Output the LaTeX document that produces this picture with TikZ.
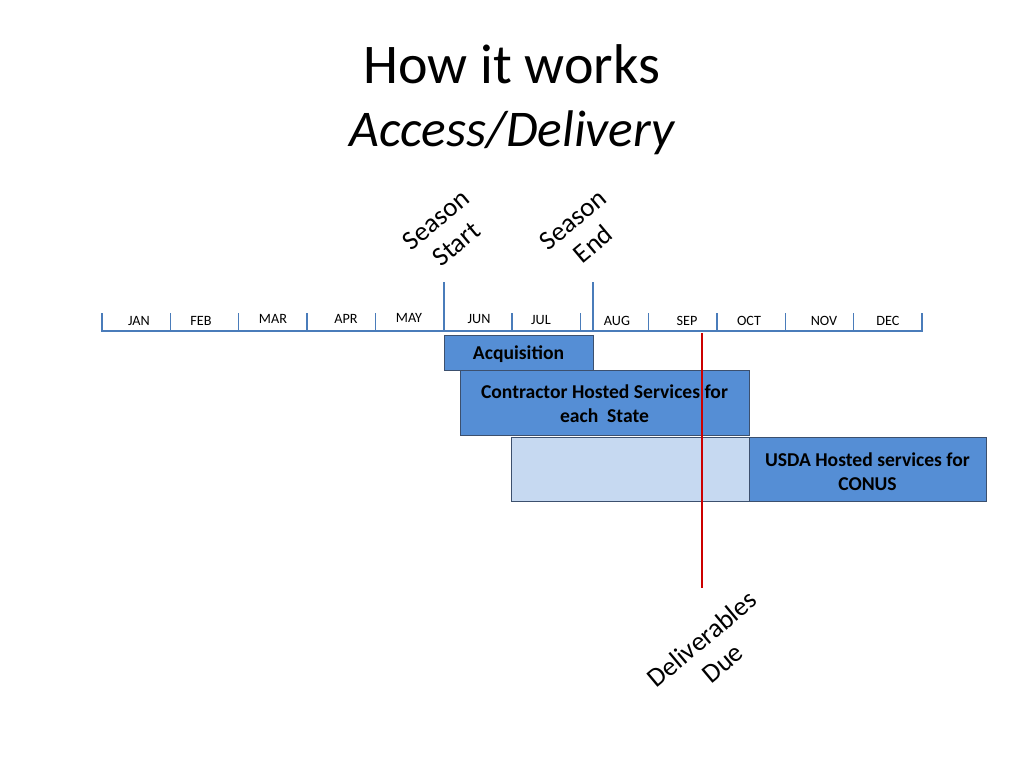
\documentclass[tikz,border=0pt]{standalone}
\usepackage{fontspec}
\setmainfont{Carlito}
\definecolor{tl}{RGB}{74,124,186}
\definecolor{boxfill}{RGB}{85,142,213}
\definecolor{lightfill}{RGB}{198,217,241}
\definecolor{boxline}{RGB}{60,80,110}
\definecolor{duered}{RGB}{204,0,0}
\tikzset{
  month/.style={font=\fontsize{14.2}{17}\selectfont, inner sep=0pt},
  tick/.style={draw=tl, line width=1.6pt},
  seasonline/.style={draw=tl, line width=1.6pt},
  axis/.style={draw=tl, line width=2.6pt},
  box/.style={draw=boxline, line width=0.9pt, fill=boxfill, inner sep=0pt, align=center,
    font=\bfseries\fontsize{19.6}{24}\selectfont},
  lightbox/.style={box, fill=lightfill},
  rotlabel/.style={rotate=40, align=center, inner sep=0pt, font=\fontsize{27}{32}\selectfont},
  dueline/.style={draw=duered, line width=1.6pt}
}
\begin{document}
\begin{tikzpicture}[x=1pt,y=-1pt]
\useasboundingbox[fill=white] (0,0) rectangle (1024,768);
% title
\node[anchor=base, inner sep=0pt, font=\fontsize{56}{67}\selectfont] (t1) at (512,83) {How it works};
\node[anchor=base, inner sep=0pt, font=\itshape\fontsize{51.5}{62}\selectfont] (t2) at (512,146) {Access/Delivery};
% timeline
\coordinate (a0) at (102,331);
\coordinate (a1) at (922,331);
\foreach \i in {0,...,12} {
  \draw[tick] ({102+\i*68.33},313) -- ({102+\i*68.33},332);
}
\draw[axis] (a0) -- (a1);
\coordinate (ss0) at (444,282);
\coordinate (ss1) at (444,331);
\coordinate (se0) at (593,282);
\coordinate (se1) at (593,331);
\draw[seasonline] (ss0) -- (ss1);
\draw[seasonline] (se0) -- (se1);
% months
\node[month] (jan) at (139,320.5) {JAN};
\node[month] (feb) at (201,321) {FEB};
\node[month] (mar) at (273,319) {MAR};
\node[month] (apr) at (346,319) {APR};
\node[month] (may) at (409,318) {MAY};
\node[month] (jun) at (479,319) {JUN};
\node[month] (jul) at (541,319.5) {JUL};
\node[month] (aug) at (617,321) {AUG};
\node[month] (sep) at (687,321) {SEP};
\node[month] (oct) at (749,321) {OCT};
\node[month] (nov) at (824,321) {NOV};
\node[month] (dec) at (888,321) {DEC};
% season labels
\node[rotlabel] (sstart) at (446,232) {Season\\Start};
\node[rotlabel] (send) at (583,232) {Season\\End};
% boxes
\node[box, text depth=0pt, minimum width=149pt, minimum height=35pt] (acq) at (518.5,352.5) {Acquisition};
\node[box, minimum width=289pt, minimum height=65pt] (contr) at (604.5,403) {\raisebox{-3pt}[\height][\depth]{\begin{tabular}{@{}c@{}}Contractor Hosted Services for\\each\ \ State\end{tabular}}};
\node[lightbox, minimum width=238pt, minimum height=64pt] (light) at (630,469) {};
\node[box, minimum width=237pt, minimum height=64pt] (usda) at (867.5,469) {\raisebox{-5pt}[\height][\depth]{\begin{tabular}{@{}c@{}}USDA Hosted services for\\CONUS\end{tabular}}};
% deliverables
\coordinate (d0) at (702,333);
\coordinate (d1) at (702,588);
\draw[dueline] (d0) -- (d1);
\node[rotlabel] (due) at (712,651) {Deliverables\\Due};
\end{tikzpicture}
\end{document}
